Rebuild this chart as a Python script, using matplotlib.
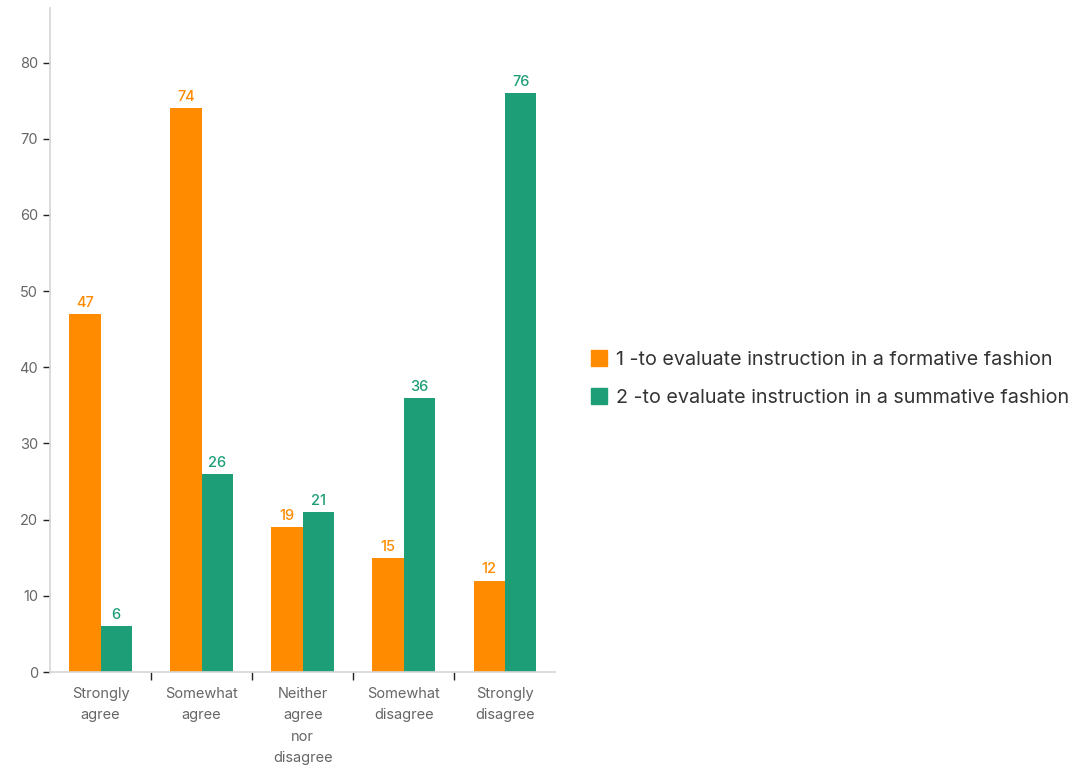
import numpy as np
import matplotlib
matplotlib.use("Agg")
import matplotlib.pyplot as plt
from matplotlib.patches import Patch

plt.rcParams['font.family'] = ['Inter', 'DejaVu Sans']

categories = ["Strongly\nagree", "Somewhat\nagree", "Neither\nagree\nnor\ndisagree",
              "Somewhat\ndisagree", "Strongly\ndisagree"]
formative = [47, 74, 19, 15, 12]
summative = [6, 26, 21, 36, 76]
series_labels = ["1 -to evaluate instruction in a formative fashion",
                 "2 -to evaluate instruction in a summative fashion"]
colors = ["#FF8C00", "#1E9E77"]

fig = plt.figure(figsize=(10.87, 7.68), dpi=100)
ax = fig.add_axes([0.046, 0.125, 0.465, 0.865])

x = np.arange(len(categories))
w = 0.31
b1 = ax.bar(x - w / 2, formative, w, color=colors[0])
b2 = ax.bar(x + w / 2, summative, w, color=colors[1])

for bars, vals, c in [(b1, formative, colors[0]), (b2, summative, colors[1])]:
    for rect, v in zip(bars, vals):
        ax.annotate(str(v), (rect.get_x() + rect.get_width() / 2, v),
                    xytext=(0, 3), textcoords="offset points",
                    ha="center", va="bottom", color=c, fontsize=10.5, fontweight="medium")

ax.set_xlim(-0.5, len(categories) - 0.5)
ax.set_ylim(0, 87.2)
ax.set_yticks(range(0, 90, 10))
ax.tick_params(axis='y', colors='#222222', labelcolor='#666666', labelsize=10.5, length=5, width=1)

ax.set_xticks(x)
ax.set_xticklabels(categories, color='#666666', fontsize=10.5, linespacing=1.65)
ax.tick_params(axis='x', length=0, pad=11)
ax.set_xticks(np.arange(0.5, len(categories) - 0.5), minor=True)
ax.tick_params(axis='x', which='minor', length=6, width=1, color='#222222')

for s in ['top', 'right']:
    ax.spines[s].set_visible(False)
for s in ['left', 'bottom']:
    ax.spines[s].set_color('#d6d6d6')
    ax.spines[s].set_linewidth(1.2)

handles = [Patch(color=c) for c in colors]
fig.legend(handles, series_labels, loc='center left', bbox_to_anchor=(0.527, 0.507),
           frameon=False, fontsize=14.2, labelcolor='#333333',
           handlelength=0.85, handleheight=0.85, handletextpad=0.45, labelspacing=1.0)

fig.savefig("out.png", dpi=100)
